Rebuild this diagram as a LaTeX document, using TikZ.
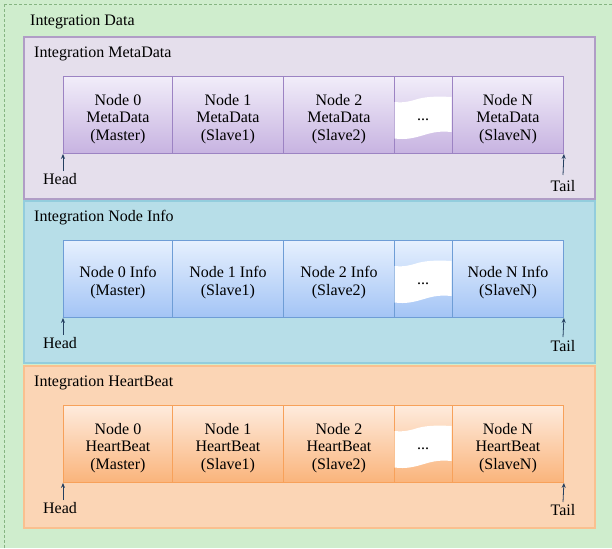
\documentclass[tikz,border=0pt]{standalone}
\usepackage{fontspec}
\setmainfont{Liberation Serif}
\usetikzlibrary{arrows.meta}

\definecolor{bgGreen}{HTML}{CFEDCD}
\definecolor{bgDash}{HTML}{86B482}
\definecolor{metaFill}{HTML}{E5DFEC}
\definecolor{metaLine}{HTML}{B09DC6}
\definecolor{metaTop}{HTML}{F1EDF9}
\definecolor{metaBot}{HTML}{C7B3E1}
\definecolor{metaEdge}{HTML}{9C83C3}
\definecolor{infoFill}{HTML}{B7DEE8}
\definecolor{infoLine}{HTML}{93CDDD}
\definecolor{infoTop}{HTML}{E6F0FE}
\definecolor{infoBot}{HTML}{A3C4F5}
\definecolor{infoEdge}{HTML}{6E9DD6}
\definecolor{beatFill}{HTML}{FBD5B5}
\definecolor{beatLine}{HTML}{FAC08F}
\definecolor{beatTop}{HTML}{FEEBDD}
\definecolor{beatBot}{HTML}{FAB47B}
\definecolor{beatEdge}{HTML}{F7A15A}
\definecolor{ptrColor}{HTML}{243F60}

\newcommand{\txtfont}{\fontsize{16}{17.7}\selectfont}
% extra room above the first line pushes cell text a little lower
\newcommand{\topgap}{\rule{0pt}{19pt}}

% white wavy band inside the "..." cell
\newcommand{\wavegap}[1]{%
  \begin{scope}[shift={(#1.north west)}]
    \fill[white] (0.5,26)
      .. controls (8,27) and (14,26) .. (22,23.5)
      .. controls (30,21) and (40,20) .. (57.5,21)
      -- (57.5,56)
      .. controls (46,55) and (40,56) .. (30,59)
      .. controls (20,62) and (12,64) .. (0.5,62.5)
      -- cycle;
  \end{scope}}

\tikzset{
  cellbox/.style={draw, line width=0.9pt, minimum height=77pt, anchor=north west,
    inner sep=0pt, align=center, font=\txtfont},
  metacell/.style={cellbox, draw=metaEdge, top color=metaTop, bottom color=metaBot},
  infocell/.style={cellbox, draw=infoEdge, top color=infoTop, bottom color=infoBot},
  beatcell/.style={cellbox, draw=beatEdge, top color=beatTop, bottom color=beatBot},
  wA/.style={minimum width=109pt},
  wB/.style={minimum width=111pt},
  wC/.style={minimum width=58pt},
  panelbox/.style={line width=2pt},
  ptitle/.style={anchor=west, inner sep=0pt, font=\txtfont},
  endlabel/.style={inner sep=0pt, font=\txtfont},
  dotslabel/.style={inner sep=0pt, font=\txtfont},
  ptr/.style={-{Stealth[length=5pt,width=4pt]}, draw=ptrColor, line width=0.8pt},
}

\begin{document}
\begin{tikzpicture}[x=1pt,y=-1pt]
\useasboundingbox (0,0) rectangle (612,548);

% outer container
\fill[bgGreen] (0,0) rectangle (612,548);
\draw[bgDash, line width=0.8pt, dash pattern=on 3pt off 2pt] (4.5,4.5) rectangle (620,560);
\node[ptitle] (tdata) at (30,21.5) {Integration Data};

% ---------- Integration MetaData ----------
\draw[panelbox, fill=metaFill, draw=metaLine] (24,37) rectangle (595,199);
\node[ptitle] (tmeta) at (34,53.5) {Integration MetaData};
\node[metacell, wA] (m0) at (63,76) {\topgap Node 0\\MetaData\\(Master)};
\node[metacell, wB] (m1) at (172,76) {\topgap Node 1\\MetaData\\(Slave1)};
\node[metacell, wB] (m2) at (283,76) {\topgap Node 2\\MetaData\\(Slave2)};
\node[metacell, wC] (m3) at (394,76) {};
\node[metacell, wB] (m4) at (452,76) {\topgap Node N\\MetaData\\(SlaveN)};
\wavegap{m3}
\node[dotslabel] (md) at (423,120) {...};
\node[endlabel] (mh) at (60,179) {Head};
\node[endlabel] (mt) at (563,186) {Tail};
\coordinate (mhs) at (63,171);
\coordinate (mts) at (563,175);
\draw[ptr] (mhs) -- (m0.south west);
\draw[ptr] (mts) -- (m4.south east);

% ---------- Integration Node Info ----------
\draw[panelbox, fill=infoFill, draw=infoLine] (24,201) rectangle (595,363);
\node[ptitle] (tinfo) at (34,217.5) {Integration Node Info};
\node[infocell, wA] (i0) at (63,240) {\topgap Node 0 Info\\(Master)};
\node[infocell, wB] (i1) at (172,240) {\topgap Node 1 Info\\(Slave1)};
\node[infocell, wB] (i2) at (283,240) {\topgap Node 2 Info\\(Slave2)};
\node[infocell, wC] (i3) at (394,240) {};
\node[infocell, wB] (i4) at (452,240) {\topgap Node N Info\\(SlaveN)};
\wavegap{i3}
\node[dotslabel] (id) at (423,284) {...};
\node[endlabel] (ih) at (60,343) {Head};
\node[endlabel] (it) at (563,346) {Tail};
\coordinate (ihs) at (63,335);
\coordinate (its) at (563,337);
\draw[ptr] (ihs) -- (i0.south west);
\draw[ptr] (its) -- (i4.south east);

% ---------- Integration HeartBeat ----------
\draw[panelbox, fill=beatFill, draw=beatLine] (24,366) rectangle (595,528);
\node[ptitle] (tbeat) at (34,382.5) {Integration HeartBeat};
\node[beatcell, wA] (h0) at (63,405) {\topgap Node 0\\HeartBeat\\(Master)};
\node[beatcell, wB] (h1) at (172,405) {\topgap Node 1\\HeartBeat\\(Slave1)};
\node[beatcell, wB] (h2) at (283,405) {\topgap Node 2\\HeartBeat\\(Slave2)};
\node[beatcell, wC] (h3) at (394,405) {};
\node[beatcell, wB] (h4) at (452,405) {\topgap Node N\\HeartBeat\\(SlaveN)};
\wavegap{h3}
\node[dotslabel] (hd) at (423,449) {...};
\node[endlabel] (hh) at (60,508) {Head};
\node[endlabel] (ht) at (563,510) {Tail};
\coordinate (hhs) at (63,500);
\coordinate (hts) at (563,502);
\draw[ptr] (hhs) -- (h0.south west);
\draw[ptr] (hts) -- (h4.south east);
\end{tikzpicture}
\end{document}
